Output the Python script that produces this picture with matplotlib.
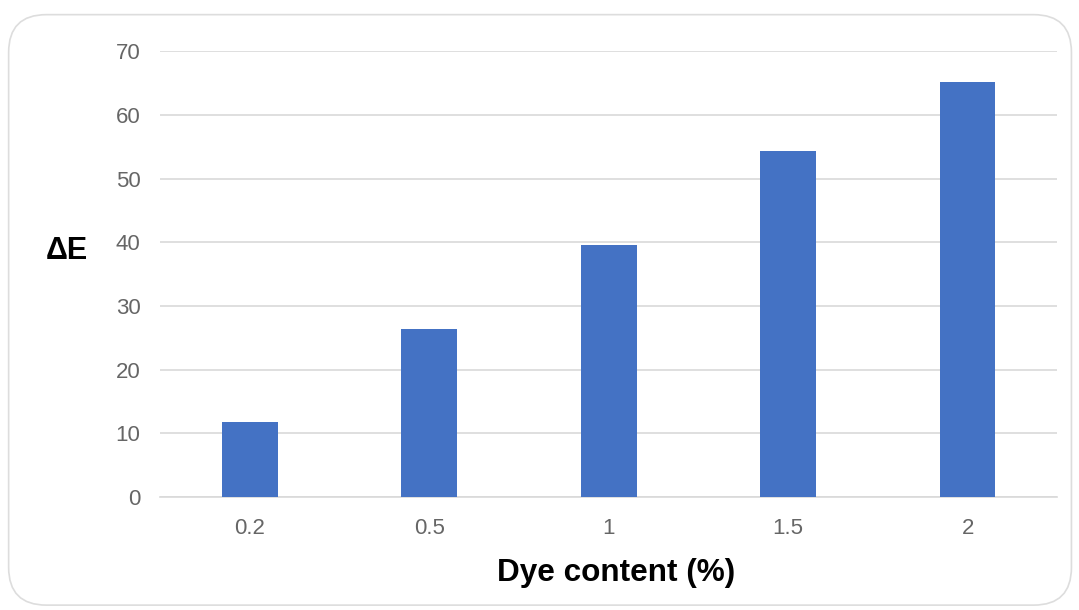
import numpy as np
import matplotlib.pyplot as plt
from matplotlib.patches import FancyBboxPatch

plt.rcParams['font.family'] = ['Liberation Sans', 'DejaVu Sans']

dye_content = ["0.2", "0.5", "1", "1.5", "2"]
delta_e = [11.8, 26.4, 39.5, 54.4, 65.2]
y_ticks = [0, 10, 20, 30, 40, 50, 60, 70]

fig = plt.figure(figsize=(10.79, 6.10), dpi=100)

# rounded card border around the chart, kept behind the axes
card = FancyBboxPatch((0.008, 0.008), 0.985, 0.968,
                      boxstyle="round,pad=0,rounding_size=0.035",
                      transform=fig.transFigure, facecolor="white",
                      edgecolor="#dddddd", linewidth=1.2,
                      mutation_aspect=1079 / 610, zorder=-5)
fig.patches.append(card)

ax = fig.add_axes([0.1483, 0.1857, 0.8317, 0.7299])
x = np.arange(len(dye_content))
ax.bar(x, delta_e, width=0.31, color="#4472c4", zorder=3)

ax.set_xlim(-0.5, len(dye_content) - 0.5)
ax.set_ylim(0, 70)
ax.set_yticks(y_ticks)
ax.set_xticks(x)
ax.set_xticklabels(dye_content)
ax.grid(axis="y", color="#d9d9d9", linewidth=1.2, zorder=0)
for s in ["top", "right", "left"]:
    ax.spines[s].set_visible(False)
ax.spines["bottom"].set_color("#d9d9d9")
ax.spines["bottom"].set_linewidth(1.2)
ax.tick_params(axis="both", length=0, labelsize=16, labelcolor="#666666")
ax.tick_params(axis="y", pad=14)
ax.tick_params(axis="x", pad=15)
ax.set_facecolor("none")

fig.text(0.062, 0.588, "ΔE", fontsize=22, fontweight="bold", ha="center", va="center")
fig.text(0.571, 0.047, "Dye content (%)", fontsize=22.7, fontweight="bold",
         ha="center", va="baseline")

fig.savefig("out.png", dpi=100)
